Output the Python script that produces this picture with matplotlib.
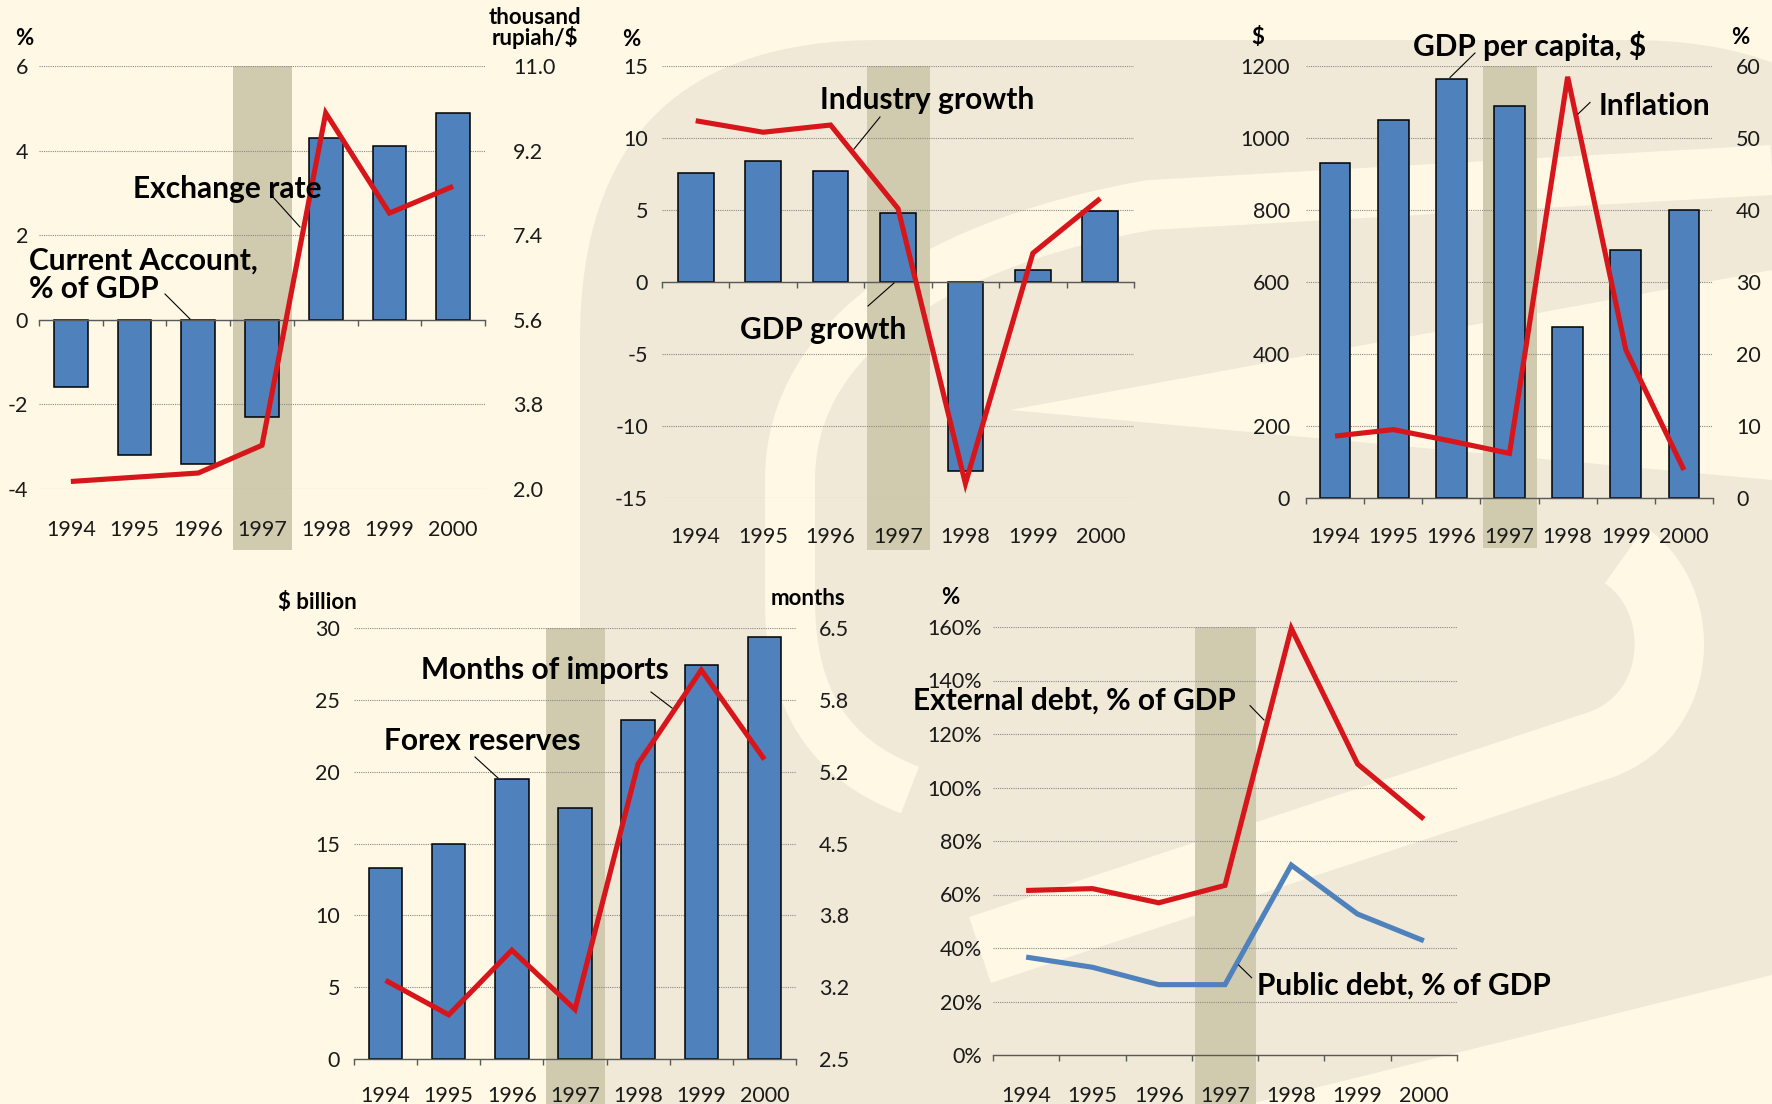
import numpy as np
import matplotlib.pyplot as plt
import matplotlib.transforms as mtransforms
from matplotlib.patches import Rectangle, FancyBboxPatch, Polygon, PathPatch
from matplotlib.path import Path

plt.rcParams['font.family'] = ['Lato', 'DejaVu Sans']

W, H = 1772, 1104

years = ['1994', '1995', '1996', '1997', '1998', '1999', '2000']

current_account = [-1.6, -3.2, -3.4, -2.3, 4.3, 4.1, 4.9]
exchange_rate = [2.16, 2.25, 2.34, 2.93, 10.0, 7.87, 8.44]

gdp_growth = [7.6, 8.4, 7.7, 4.8, -13.1, 0.8, 4.9]
industry_growth = [11.2, 10.4, 10.9, 5.1, -14.0, 2.0, 5.8]

gdp_per_capita = [930, 1050, 1165, 1090, 475, 690, 800]
inflation = [8.6, 9.5, 7.9, 6.2, 58.5, 20.6, 3.9]

forex_reserves = [13.3, 15.0, 19.5, 17.5, 23.6, 27.4, 29.4]
import_months = [3.23, 2.91, 3.51, 2.96, 5.24, 6.11, 5.28]

external_debt = [61.5, 62.2, 56.9, 63.4, 159.5, 108.8, 88.2]
public_debt = [36.6, 32.8, 26.3, 26.3, 71.0, 52.7, 42.7]

BG = '#FFF8E5'
WM = '#F0E9D8'
BAR = '#4F81BD'
RED = '#D7161B'
SHADE = '#D0CBAF'
TICK_FS = 15.5
UNIT_FS = 16
LABEL_FS = 21.5
x = np.arange(len(years))

fig = plt.figure(figsize=(W / 100, H / 100), dpi=100)
fig.patch.set_facecolor(BG)

# faint logo watermark in the background
bg = fig.add_axes([0, 0, 1, 1], zorder=-10)
bg.set_xlim(0, W)
bg.set_ylim(H, 0)
bg.axis('off')
bg.add_patch(FancyBboxPatch((580, 40), 1350, 1250, boxstyle='round,pad=0,rounding_size=300',
                            fc=WM, ec='none'))
C4 = Path.CURVE4
arm_top = Path([(1772, 170), (1150, 205), (950, 240), (790, 330), (790, 480), (790, 600),
                (790, 700), (830, 760), (910, 790)],
               [Path.MOVETO, Path.LINETO, C4, C4, C4, Path.LINETO, C4, C4, C4])
bg.add_patch(PathPatch(arm_top, fill=False, ec=BG, lw=36, capstyle='butt'))
arm_mid = Path([(980, 950), (1600, 745), (1685, 715), (1690, 600), (1625, 555)],
               [Path.MOVETO, Path.LINETO, C4, C4, C4])
bg.add_patch(PathPatch(arm_mid, fill=False, ec=BG, lw=50, capstyle='butt'))
bg.add_patch(Polygon([(1010, 410), (1772, 270), (1772, 480)], closed=True, fc=BG, ec='none'))
bg.add_patch(Polygon([(1250, 1104), (1772, 975), (1772, 1104)], closed=True, fc=BG, ec='none'))

top = fig.add_axes([0, 0, 1, 1], zorder=20)
top.set_xlim(0, W)
top.set_ylim(H, 0)
top.axis('off')
top.patch.set_visible(False)


def panel(box, ylim, yticks, ylabels, lpad, year_base, shade_bottom):
    x0, y0, x1, y1 = box
    ax = fig.add_axes([x0 / W, 1 - y1 / H, (x1 - x0) / W, (y1 - y0) / H])
    ax.patch.set_visible(False)
    ax.set_xlim(-0.5, 6.5)
    ax.set_ylim(*ylim)
    for s in ['left', 'right', 'top']:
        ax.spines[s].set_visible(False)
    ax.spines['bottom'].set_position(('data', 0))
    ax.spines['bottom'].set_color('#595959')
    ax.spines['bottom'].set_linewidth(1.0)
    ax.spines['bottom'].set_zorder(4)
    ax.set_xticks(np.arange(-0.5, 7, 1))
    ax.set_xticklabels([])
    ax.tick_params(axis='x', direction='out', length=4.3, width=1.0, color='#595959')
    ax.set_yticks(yticks)
    ax.set_yticklabels(ylabels)
    ax.tick_params(axis='y', length=0, pad=lpad * 0.72, labelsize=TICK_FS, labelcolor='#1a1a1a')
    ax.yaxis.grid(True, ls=(0, (1, 1)), color='#8a8a8a', lw=0.8)
    ax.set_axisbelow(True)
    tr = mtransforms.blended_transform_factory(ax.transData, ax.transAxes)
    h = y1 - y0
    for i, yr in enumerate(years):
        ax.text(i, -(year_base - y1) / h, yr, transform=tr, ha='center', va='baseline',
                fontsize=TICK_FS, color='#1a1a1a', clip_on=False)
    below = (shade_bottom - y1) / h
    ax.add_patch(Rectangle((2.54, -below), 0.93, 1 + below, transform=tr,
                           fc=SHADE, ec='none', zorder=0.1, clip_on=False))
    return ax


def twin(ax, ylim, yticks, rpad):
    a2 = ax.twinx()
    a2.set_ylim(*ylim)
    for s in a2.spines.values():
        s.set_visible(False)
    a2.set_yticks(yticks)
    a2.set_yticklabels(['%.1f' % v if isinstance(v, float) else str(v) for v in yticks])
    a2.tick_params(axis='y', length=0, pad=rpad * 0.72, labelsize=TICK_FS, labelcolor='#1a1a1a')
    return a2


def bars(ax, vals):
    ax.bar(x, vals, width=0.53, color=BAR, edgecolor='black', lw=1.1, zorder=2)


def line(ax, vals, color=RED):
    ax.plot(x, vals, color=color, lw=3.7, solid_joinstyle='miter', solid_capstyle='butt',
            zorder=5, clip_on=False)


def label(px, py, s, size=LABEL_FS, ha='left'):
    top.text(px, py, s, fontsize=size, fontweight='bold', ha=ha, va='baseline', color='black')


def leader(xa, ya, xb, yb):
    top.plot([xa, xb], [ya, yb], color='black', lw=0.8)


# 1: current account / exchange rate
ax1 = panel((39, 66, 485, 489), (-4, 6), [-4, -2, 0, 2, 4, 6],
            ['-4', '-2', '0', '2', '4', '6'], 11, 536, 550)
bars(ax1, current_account)
a1 = twin(ax1, (2.0, 11.0), list(np.round(np.arange(2.0, 11.01, 1.8), 1)), 28)
line(a1, exchange_rate)
label(15, 44.6, '%', UNIT_FS)
label(535, 24.3, 'thousand', UNIT_FS, 'center')
label(535, 44.6, 'rupiah/$', UNIT_FS, 'center')
label(133, 198, 'Exchange rate')
leader(272, 196, 300, 227)
label(29, 270, 'Current Account,')
label(29, 298, '% of GDP')
leader(165, 294, 190, 319)

# 2: GDP / industry growth
ax2 = panel((662, 66, 1134, 498), (-15, 15), [-15, -10, -5, 0, 5, 10, 15],
            ['-15', '-10', '-5', '0', '5', '10', '15'], 14, 543, 550)
bars(ax2, gdp_growth)
line(ax2, industry_growth)
label(622, 45.7, '%', UNIT_FS)
label(820, 109, 'Industry growth')
leader(880, 117, 854, 149)
label(740, 338.6, 'GDP growth')
leader(868, 306, 894, 283)

# 3: GDP per capita / inflation
ax3 = panel((1306, 66, 1713, 498), (0, 1200), list(range(0, 1201, 200)),
            [str(v) for v in range(0, 1201, 200)], 16, 543, 548)
bars(ax3, gdp_per_capita)
a3 = twin(ax3, (0, 60), list(range(0, 61, 10)), 23)
line(a3, inflation)
label(1258, 43.6, '$', UNIT_FS, 'center')
label(1740, 43.6, '%', UNIT_FS, 'center')
label(1413, 56.4, 'GDP per capita, $')
leader(1475, 53, 1450, 77.5)
label(1599, 115, 'Inflation')
leader(1590, 102.5, 1578, 114)

# 4: forex reserves / months of imports
ax4 = panel((354, 628, 796, 1059), (0, 30), list(range(0, 31, 5)),
            [str(v) for v in range(0, 31, 5)], 14, 1102, H)
bars(ax4, forex_reserves)
a4 = twin(ax4, (2.5, 6.5), list(np.linspace(2.5, 6.5, 7)), 23)
line(a4, import_months)
label(278, 609, '$ billion', UNIT_FS)
label(845, 604.7, 'months', UNIT_FS, 'right')
label(421, 679, 'Months of imports')
leader(651, 692, 672, 708)
label(384, 750.5, 'Forex reserves')
leader(475, 757, 498, 778)

# 5: external / public debt
ax5 = panel((993, 627, 1457, 1055), (0, 160), list(range(0, 161, 20)),
            ['%d%%' % v for v in range(0, 161, 20)], 11, 1102, H)
line(ax5, external_debt)
line(ax5, public_debt, BAR)
label(941, 604, '%', UNIT_FS)
label(913, 709.6, 'External debt, % of GDP')
leader(1250, 705.6, 1264, 720)
label(1257, 994.7, 'Public debt, % of GDP')
leader(1238.6, 965, 1251.6, 977.7)

fig.savefig('out.png', dpi=100, facecolor=BG)
